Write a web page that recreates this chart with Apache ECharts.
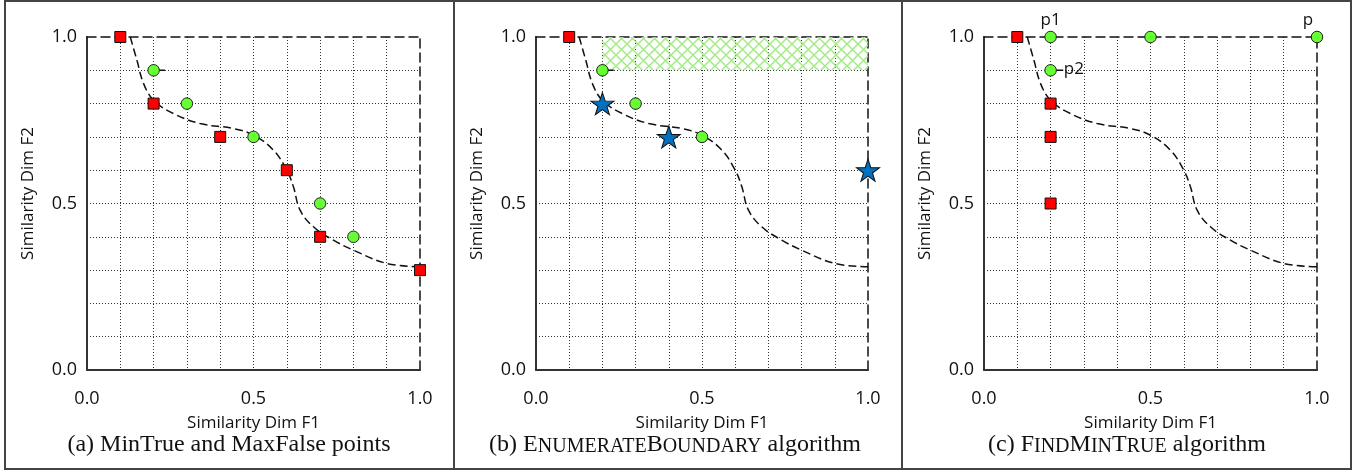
<!DOCTYPE html>
<html>
<head>
<meta charset="utf-8">
<script src="https://cdn.jsdelivr.net/npm/echarts@6/dist/echarts.min.js"></script>
<style>
  html, body { margin: 0; padding: 0; background: #fff; }
  #chart { width: 1363px; height: 472px; }
</style>
</head>
<body>
<div id="chart"></div>
<script>
// boundary curve (same in all three panels)
const CURVE = [
  [0.13, 1.0], [0.15, 0.93], [0.17, 0.86], [0.2, 0.81], [0.26, 0.77], [0.34, 0.74],
  [0.44, 0.725], [0.5, 0.705], [0.56, 0.66], [0.6, 0.6], [0.62, 0.55], [0.64, 0.48],
  [0.68, 0.43], [0.74, 0.39], [0.8, 0.36], [0.9, 0.32], [1.0, 0.31]
];

// panel (a)
const A_FALSE = [[0.1, 1.0], [0.2, 0.8], [0.4, 0.7], [0.6, 0.6], [0.7, 0.4], [1.0, 0.3]];
const A_TRUE = [[0.2, 0.9], [0.3, 0.8], [0.5, 0.7], [0.7, 0.5], [0.8, 0.4]];

// panel (b)
const B_FALSE = [[0.1, 1.0]];
const B_TRUE = [[0.2, 0.9], [0.3, 0.8], [0.5, 0.7]];
const B_STARS = [[0.2, 0.8], [0.4, 0.7], [1.0, 0.6]];
const B_AREA = [[0.2, 0.9], [1.0, 1.0]];

// panel (c)
const C_FALSE = [[0.1, 1.0], [0.2, 0.8], [0.2, 0.7], [0.2, 0.5]];
const C_TRUE = [[0.2, 1.0], [0.5, 1.0], [1.0, 1.0], [0.2, 0.9]];
const C_NAMES = ['p1', '', 'p', 'p2'];

const TICK_LABELS = [0, 0.5, 1];
const CAPTIONS = [
  '{n|(a) MinTrue and MaxFalse points}',
  '{n|(b) }{c|E}{s|NUMERATE}{c|B}{s|OUNDARY}{n| algorithm}',
  '{n|(c) }{c|F}{s|IND}{c|M}{s|IN}{c|T}{s|RUE}{n| algorithm}'
];

const SANS = '"Open Sans", "Liberation Sans", sans-serif';
const SERIF = '"Liberation Serif", "DejaVu Serif", serif';
const STAR = 'path://M50,0 L61.8,35.1 L98.1,35.1 L68.7,56.8 L79.4,90.5 L50,69.6 L20.6,90.5 L31.3,56.8 L1.9,35.1 L38.2,35.1 Z';

const PANELS = [
  { left: 87, width: 333, center: 224 },
  { left: 536, width: 332, center: 670 },
  { left: 984, width: 333, center: 1122 }
];

// crosshatch pattern for the green region
function makeHatch() {
  const c = document.createElement('canvas');
  c.width = 11; c.height = 11;
  const ctx = c.getContext('2d');
  ctx.strokeStyle = '#a3ec85';
  ctx.lineWidth = 1.5;
  ctx.beginPath();
  ctx.moveTo(0, 0); ctx.lineTo(11, 11);
  ctx.moveTo(11, 0); ctx.lineTo(0, 11);
  ctx.stroke();
  return c;
}

function tickFmt(v) {
  return TICK_LABELS.some(t => Math.abs(v - t) < 1e-6) ? v.toFixed(1) : '';
}

const grids = [], xAxes = [], yAxes = [], series = [], titles = [];

PANELS.forEach((p, i) => {
  grids.push({ left: p.left, top: 37, width: p.width, height: 333 });
  const base = {
    type: 'value', min: 0, max: 1, interval: 0.1, gridIndex: i,
    axisTick: { show: false }
  };
  xAxes.push(Object.assign({}, base, {
    position: 'bottom',
    name: 'Similarity Dim F1', nameLocation: 'middle', nameGap: 45,
    nameTextStyle: { fontFamily: SANS, fontSize: 17, color: '#111' },
    axisLine: { lineStyle: { color: '#333', width: 2 } },
    axisLabel: { formatter: tickFmt, margin: 20, fontFamily: SANS, fontSize: 18, color: '#111', showMinLabel: true, showMaxLabel: true },
    splitLine: { show: true, showMinLine: false, showMaxLine: false, lineStyle: { color: '#333', width: 1, type: [1, 2] } }
  }));
  xAxes.push(Object.assign({}, base, {
    position: 'top',
    axisLine: { onZero: false, lineStyle: { color: '#111', width: 1.5, type: [9, 5] } },
    axisLabel: { show: false }, splitLine: { show: false }
  }));
  yAxes.push(Object.assign({}, base, {
    position: 'left',
    name: 'Similarity Dim F2', nameLocation: 'middle', nameGap: 50,
    nameTextStyle: { fontFamily: SANS, fontSize: 17, color: '#111', padding: [0, 0, 0, 20] },
    axisLine: { lineStyle: { color: '#333', width: 2 } },
    axisLabel: { formatter: tickFmt, margin: 10, fontFamily: SANS, fontSize: 18, color: '#111' },
    splitLine: { show: true, showMinLine: false, showMaxLine: false, lineStyle: { color: '#333', width: 1, type: [1, 2] } }
  }));
  yAxes.push(Object.assign({}, base, {
    position: 'right',
    axisLine: { onZero: false, lineStyle: { color: '#111', width: 1.5, type: [9, 5] } },
    axisLabel: { show: false }, splitLine: { show: false }
  }));
  const cap = { fontFamily: SERIF, fontWeight: 'normal', color: '#111', verticalAlign: 'bottom' };
  titles.push({
    text: CAPTIONS[i], left: p.center, top: 428, textAlign: 'center',
    textStyle: {
      fontWeight: 'normal',
      rich: {
        n: Object.assign({ fontSize: 24 }, cap),
        c: Object.assign({ fontSize: 24 }, cap),
        s: Object.assign({ fontSize: 20 }, cap)
      }
    }
  });
  // boundary curve
  series.push({
    type: 'line', xAxisIndex: 2 * i, yAxisIndex: 2 * i, data: CURVE,
    smooth: 0.4, showSymbol: false, silent: true, z: 3,
    lineStyle: { color: '#111', width: 1.5, type: [8, 4] }
  });
  // short leader from (0.2,0.9)
  series.push({
    type: 'line', xAxisIndex: 2 * i, yAxisIndex: 2 * i,
    data: [[0.2, 0.9], [i === 2 ? 0.238 : 0.234, 0.9]],
    showSymbol: false, silent: true, z: 4,
    lineStyle: { color: '#111', width: 1.5 }
  });
});

function squares(i, data) {
  return {
    type: 'scatter', xAxisIndex: 2 * i, yAxisIndex: 2 * i, data: data, z: 5,
    symbol: 'rect', symbolSize: 11,
    itemStyle: { color: '#ff0000', borderColor: '#111', borderWidth: 1, opacity: 1 }
  };
}
function circles(i, data) {
  return {
    type: 'scatter', xAxisIndex: 2 * i, yAxisIndex: 2 * i, data: data, z: 5,
    symbol: 'circle', symbolSize: 11.5,
    itemStyle: { color: '#66ff33', borderColor: '#222', borderWidth: 1, opacity: 1 }
  };
}

series.push(squares(0, A_FALSE), circles(0, A_TRUE));

series.push({
  type: 'line', xAxisIndex: 2, yAxisIndex: 2, data: [], silent: true,
  markArea: {
    silent: true,
    itemStyle: { color: { image: makeHatch(), repeat: 'repeat' }, borderWidth: 0 },
    data: [[{ coord: B_AREA[0] }, { coord: B_AREA[1] }]]
  }
});
series.push(squares(1, B_FALSE), circles(1, B_TRUE));
series.push({
  type: 'scatter', xAxisIndex: 2, yAxisIndex: 2, data: B_STARS, z: 6,
  symbol: STAR, symbolSize: [23, 22],
  itemStyle: { color: '#0070c0', borderColor: '#111', borderWidth: 1, opacity: 1 }
});

series.push(squares(2, C_FALSE));
const labelBase = { show: true, fontFamily: SANS, fontSize: 17, color: '#111' };
series.push(circles(2, C_TRUE.map((v, k) => ({
  value: v,
  name: C_NAMES[k],
  label: Object.assign({ formatter: '{b}' }, labelBase,
    C_NAMES[k] === 'p2' ? { position: 'right', distance: 7, offset: [0, -1] }
      : { position: 'top', distance: 2, offset: C_NAMES[k] === 'p' ? [-9, 0] : [0, 0] })
}))));

const chart = echarts.init(document.getElementById('chart'), null, { renderer: 'canvas' });
chart.setOption({
  animation: false,
  backgroundColor: '#fff',
  title: titles,
  grid: grids,
  xAxis: xAxes,
  yAxis: yAxes,
  series: series,
  graphic: [
    { type: 'rect', shape: { x: 5, y: 1, width: 1346, height: 468 }, style: { fill: 'none', stroke: '#444', lineWidth: 2 }, silent: true },
    { type: 'line', shape: { x1: 454, y1: 1, x2: 454, y2: 469 }, style: { stroke: '#444', lineWidth: 2 }, silent: true },
    { type: 'line', shape: { x1: 902, y1: 1, x2: 902, y2: 469 }, style: { stroke: '#444', lineWidth: 2 }, silent: true }
  ]
});
</script>
</body>
</html>
